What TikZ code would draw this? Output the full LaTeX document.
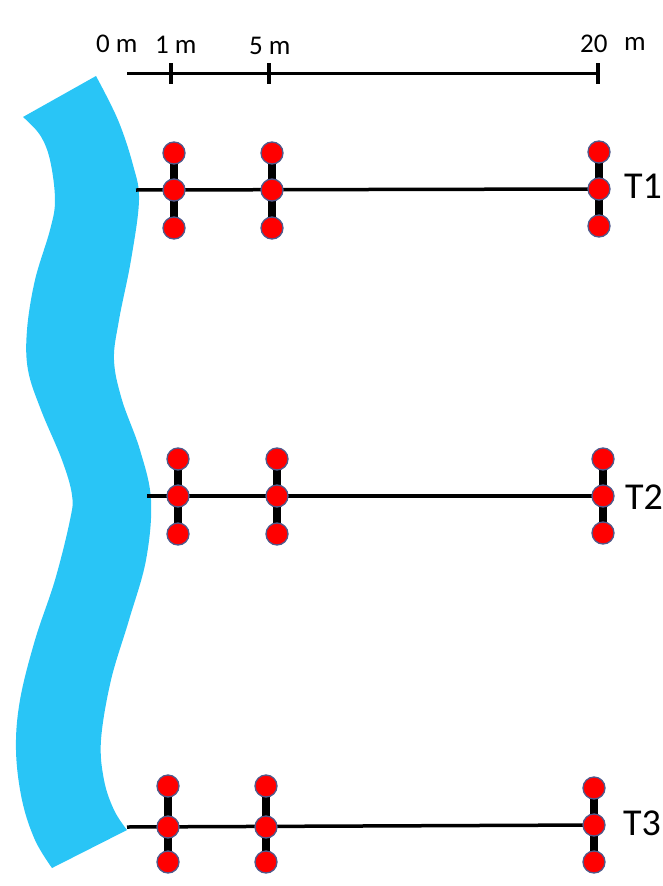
\documentclass[tikz,border=0pt]{standalone}
\usepackage{fontspec}
\setmainfont{Carlito}
\pgfdeclarelayer{bg}
\pgfdeclarelayer{mid}
\pgfsetlayers{bg,mid,main}
\begin{document}
\begin{tikzpicture}[x=1pt,y=-1pt,
  dot/.style={circle,fill=red,draw=dotrim,line width=1.3pt,minimum size=22pt,inner sep=0pt},
  bar/.style={line width=8pt,black},
  transect/.style={line width=3.5pt,black},
  scaleline/.style={line width=3pt,black},
  tick/.style={line width=4pt,black},
  lab/.style={font=\fontsize{27}{27}\selectfont,inner sep=0pt,anchor=west},
  tlab/.style={font=\fontsize{38}{38}\selectfont,inner sep=0pt,anchor=west}]
\definecolor{dotrim}{RGB}{80,90,140}
\definecolor{river}{RGB}{41,197,246}
\useasboundingbox (0,0) rectangle (663,886);
% river
\begin{pgfonlayer}{bg}
\fill[river] plot[smooth,tension=0.6] coordinates {(96,76) (118,120) (133,165) (139,200) (131,260) (119,320) (114,360) (122,400) (140,450) (151,500) (146,560) (129,620) (111,680) (101,740) (104,780) (114,810) (127,830)}
  -- plot[smooth,tension=0.6] coordinates {(52,868) (35,840) (22,800) (16,750) (20,700) (35,640) (55,580) (70,520) (72,495) (62,460) (41,410) (28,370) (27,330) (35,280) (50,230) (55,200) (50,160) (40,135) (23,117)} -- cycle;
\end{pgfonlayer}
% scale
\coordinate (s0) at (127,73);
\coordinate (s20) at (598,73);
\draw[scaleline] (s0) -- (s20);
\foreach \x/\n in {171/a,269/b,598/c}{
  \coordinate (tk\n t) at (\x,63);
  \coordinate (tk\n b) at (\x,84);
  \draw[tick] (tk\n t) -- (tk\n b);
}
\node[lab] (l0) at (96,44) {0 m};
\node[lab] (l1) at (155,45) {1 m};
\node[lab] (l5) at (249,46) {5 m};
\node[lab] (l20) at (580,44) {20};
\node[lab] (l20m) at (624,44) {m};
% transects
\foreach \T/\y/\ya/\yb/\sx/\xa/\xb/\xc/\yr in {
  1/190/153/228/136/174/272/599/189,
  2/496/459/534/147/178/277/603/496,
  3/827/786/862/127/168/266/594/825}{
  \coordinate (st\T) at (\sx,\y);
  \foreach \k/\xx in {a/\xa,b/\xb}{
    \node[dot] (t\T\k m) at (\xx,\y) {};
    \node[dot] (t\T\k u) at (\xx,\ya) {};
    \node[dot] (t\T\k d) at (\xx,\yb) {};
  }
  \node[dot] (t\T cm) at (\xc,\yr) {};
  \node[dot] (t\T cu) at (\xc,\yr-37) {};
  \node[dot] (t\T cd) at (\xc,\yr+37) {};
}
\begin{pgfonlayer}{mid}
\foreach \T in {1,2,3}{
  \draw[transect] (st\T) -- (t\T cm.center);
  \foreach \k in {a,b,c}{
    \draw[bar] (t\T\k u.center) -- (t\T\k d.center);
  }
}
\end{pgfonlayer}
\node[tlab] (T1) at (624,186) {T1};
\node[tlab] (T2) at (625,497) {T2};
\node[tlab] (T3) at (623,823) {T3};
\end{tikzpicture}
\end{document}
